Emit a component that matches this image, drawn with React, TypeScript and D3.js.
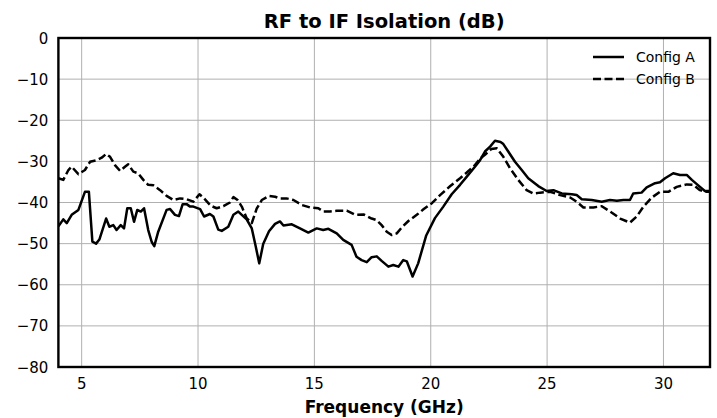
import { useMemo } from 'react';
import { scaleLinear, line } from 'd3';

// Config A (solid)
const freqA = [
  4.0, 4.21, 4.36, 4.57, 4.86, 5.14, 5.31, 5.46, 5.62, 5.76, 6.05, 6.19, 6.36, 6.5, 6.68, 6.82,
  6.96, 7.11, 7.25, 7.39, 7.54, 7.68, 7.86, 8.01, 8.12, 8.29, 8.65, 8.8, 9.01, 9.18, 9.34, 9.51,
  9.66, 9.8, 10.09, 10.26, 10.51, 10.66, 10.87, 11.02, 11.3, 11.52, 11.73, 11.88, 12.09, 12.31,
  12.48, 12.63, 12.8, 13.05, 13.31, 13.52, 13.67, 14.03, 14.38, 14.74, 15.1, 15.38, 15.6, 15.96,
  16.24, 16.6, 16.81, 17.03, 17.25, 17.46, 17.68, 17.89, 18.18, 18.39, 18.61, 18.82, 18.97, 19.22,
  19.46, 19.8, 20.18, 20.54, 20.9, 21.26, 21.55, 21.9, 22.12, 22.33, 22.55, 22.76, 23.0, 23.12,
  23.33, 23.62, 23.91, 24.19, 24.62, 24.98, 25.27, 25.63, 26.06, 26.27, 26.49, 26.92, 27.35, 27.7,
  28.0, 28.28, 28.56, 28.7, 29.06, 29.28, 29.64, 29.85, 30.07, 30.42, 30.71, 31.0, 31.22, 31.57,
  31.78, 32.0,
];
const isoA = [
  -45.8, -44.1, -45.0, -43.0, -41.8, -37.4, -37.4, -49.5, -50.0, -49.0, -43.9, -45.9, -45.5, -46.7,
  -45.5, -46.3, -41.4, -41.4, -44.7, -41.8, -42.2, -41.4, -46.7, -49.6, -50.6, -47.1, -41.8, -41.6,
  -43.0, -43.3, -40.4, -40.4, -41.0, -41.0, -41.6, -43.4, -42.8, -43.4, -46.6, -46.9, -45.9, -43.0,
  -42.2, -43.0, -44.1, -46.3, -50.7, -54.8, -50.1, -47.0, -45.2, -44.6, -45.6, -45.3, -46.3, -47.3,
  -46.3, -46.7, -46.4, -47.5, -49.1, -50.3, -53.2, -54.0, -54.5, -53.3, -53.1, -54.2, -55.6, -55.2,
  -55.6, -54.0, -54.3, -58.0, -54.8, -48.1, -43.8, -41.0, -38.0, -35.7, -33.7, -31.3, -29.7, -27.6,
  -26.4, -25.0, -25.3, -25.8, -27.6, -30.1, -32.1, -34.1, -36.0, -37.2, -37.0, -37.8, -38.0, -38.2,
  -39.2, -39.4, -39.8, -39.4, -39.6, -39.4, -39.4, -37.8, -37.6, -36.3, -35.3, -35.1, -34.1, -32.9,
  -33.3, -33.3, -34.5, -36.2, -37.2, -37.2,
];

// Config B (dashed)
const freqB = [
  4.0, 4.21, 4.43, 4.57, 4.86, 5.14, 5.36, 5.65, 5.86, 6.05, 6.22, 6.43, 6.65, 6.86, 7.0, 7.22,
  7.43, 7.65, 7.86, 8.08, 8.37, 8.65, 8.94, 9.23, 9.51, 9.8, 10.06, 10.26, 10.55, 10.8, 11.09,
  11.37, 11.52, 11.7, 11.88, 12.09, 12.31, 12.52, 12.74, 13.05, 13.31, 13.52, 13.8, 14.1, 14.46,
  14.81, 15.17, 15.38, 15.67, 15.96, 16.39, 16.75, 17.11, 17.46, 17.68, 17.89, 18.11, 18.32, 18.54,
  18.75, 19.04, 19.4, 19.7, 20.06, 20.4, 20.84, 21.26, 21.55, 21.9, 22.12, 22.33, 22.6, 22.84,
  23.12, 23.41, 23.76, 24.12, 24.41, 24.7, 25.13, 25.56, 25.99, 26.27, 26.56, 26.99, 27.35, 27.71,
  28.14, 28.56, 28.85, 29.14, 29.5, 29.85, 30.21, 30.57, 31.0, 31.28, 31.57, 31.85, 32.0,
];
const isoB = [
  -34.1, -34.5, -32.1, -31.3, -33.1, -32.1, -30.1, -29.7, -29.1, -28.2, -28.9, -30.9, -32.3, -31.3,
  -30.7, -32.5, -32.9, -34.5, -35.7, -35.8, -37.0, -38.4, -39.4, -39.0, -39.2, -39.8, -38.0, -39.0,
  -40.8, -41.4, -40.9, -40.0, -38.7, -39.4, -41.0, -43.8, -45.0, -41.5, -39.4, -38.4, -38.6, -39.0,
  -39.0, -39.4, -40.6, -41.2, -41.4, -42.2, -42.2, -42.0, -42.0, -43.0, -42.9, -43.9, -44.3, -45.5,
  -47.1, -47.9, -47.5, -46.1, -44.5, -43.0, -41.6, -40.1, -38.2, -36.0, -34.1, -32.7, -30.9, -29.3,
  -28.4, -27.0, -26.8, -28.9, -31.7, -34.5, -37.0, -37.8, -37.6, -37.4, -38.2, -38.8, -39.8, -41.2,
  -41.2, -40.9, -42.2, -43.9, -44.9, -43.4, -41.0, -38.8, -37.4, -37.4, -36.2, -35.6, -35.7, -37.0,
  -37.4, -37.4,
];

const xTicks = [5, 10, 15, 20, 25, 30];
const yTicks = [0, -10, -20, -30, -40, -50, -60, -70, -80];
const seriesNames = ['Config A', 'Config B'];

const W = 717;
const H = 418;
const margin = { left: 58.4, right: 7, top: 38, bottom: 51 };
const FONT = '"DejaVu Sans", sans-serif';
const DASH = '8,3.5';

const App = () => {
  const x = useMemo(() => scaleLinear().domain([4, 32]).range([margin.left, W - margin.right]), []);
  const y = useMemo(() => scaleLinear().domain([-80, 0]).range([H - margin.bottom, margin.top]), []);

  const gen = line<[number, number]>()
    .x((d) => x(d[0]))
    .y((d) => y(d[1]));

  const pathA = gen(freqA.map((f, i) => [f, isoA[i]]) as [number, number][]) || '';
  const pathB = gen(freqB.map((f, i) => [f, isoB[i]]) as [number, number][]) || '';

  const x0 = x(4);
  const x1 = x(32);
  const y0 = y(0);
  const y1 = y(-80);

  return (
    <div style={{ position: 'absolute', left: 0, top: 0 }}>
      <svg width={W} height={H} style={{ display: 'block', background: 'white' }}>
        <defs>
          <clipPath id="plot-clip">
            <rect x={x0} y={y0} width={x1 - x0} height={y1 - y0} />
          </clipPath>
        </defs>

        {/* grid */}
        {xTicks.map((t) => (
          <line key={'gx' + t} x1={x(t)} x2={x(t)} y1={y0} y2={y1} stroke="#b0b0b0" strokeWidth={1} />
        ))}
        {yTicks.map((t) => (
          <line key={'gy' + t} x1={x0} x2={x1} y1={y(t)} y2={y(t)} stroke="#b0b0b0" strokeWidth={1} />
        ))}

        {/* series */}
        <g clipPath="url(#plot-clip)">
          <path d={pathB} fill="none" stroke="black" strokeWidth={2.5} strokeDasharray={DASH} strokeLinejoin="round" />
          <path d={pathA} fill="none" stroke="black" strokeWidth={2.5} strokeLinejoin="round" />
        </g>

        {/* frame */}
        <rect x={x0} y={y0} width={x1 - x0} height={y1 - y0} fill="none" stroke="black" strokeWidth={2.4} />

        {/* tick labels */}
        {xTicks.map((t) => (
          <text key={'tx' + t} x={x(t)} y={y1 + 22} textAnchor="middle" fontFamily={FONT} fontSize={15} fill="black">
            {t}
          </text>
        ))}
        {yTicks.map((t) => (
          <text key={'ty' + t} x={x0 - 10} y={y(t) + 5.5} textAnchor="end" fontFamily={FONT} fontSize={15} fill="black">
            {t < 0 ? '\u2212' + Math.abs(t) : t}
          </text>
        ))}

        {/* title and axis label */}
        <text x={(x0 + x1) / 2} y={28} textAnchor="middle" fontFamily={FONT} fontSize={19.5} fontWeight="bold">
          RF to IF Isolation (dB)
        </text>
        <text x={(x0 + x1) / 2} y={413} textAnchor="middle" fontFamily={FONT} fontSize={17} fontWeight="bold">
          Frequency (GHz)
        </text>

        {/* legend */}
        {seriesNames.map((name, i) => (
          <g key={name} transform={`translate(593, ${57 + i * 22})`}>
            <line x1={0} x2={31} y1={0} y2={0} stroke="black" strokeWidth={2.5} strokeDasharray={i === 1 ? DASH : undefined} />
            <text x={43} y={5} fontFamily={FONT} fontSize={14} fill="black">
              {name}
            </text>
          </g>
        ))}
      </svg>
    </div>
  );
};

export default App;
